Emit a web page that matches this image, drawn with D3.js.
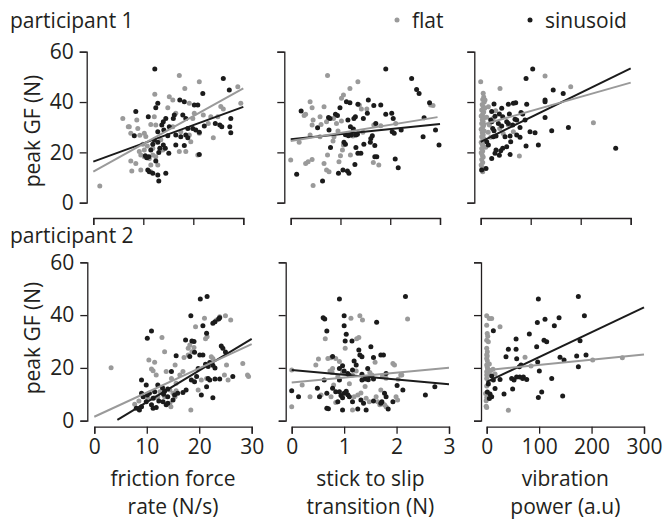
<!DOCTYPE html>
<html><head><meta charset="utf-8">
<script src="https://cdn.jsdelivr.net/npm/d3@7"></script>
<style>
html,body{margin:0;padding:0;background:#fff;}
text{font-family:"Open Sans",sans-serif;fill:#231f20;}
</style></head>
<body><svg id="c" width="665" height="521"></svg>
<script>
// ---------- data ----------
const seriesNames = ["flat", "sinusoid"];
const rowTitles = ["participant 1", "participant 2"];
const yTitle = "peak GF (N)";
const xTitles = [["friction force", "rate (N/s)"], ["stick to slip", "transition (N)"], ["vibration", "power (a.u)"]];
const xDomains = [[0, 30], [0, 3], [0, 300]];
const xTicks = [[0, 10, 20, 30], [0, 1, 2, 3], [0, 100, 200, 300]];
const yDomain = [0, 60];
const yTicks = [0, 20, 40, 60];

// participant 1 — friction force rate
const p1RateSin = [[12.3,53.1],[26.0,49.4],[27.2,44.8],[21.9,43.4],[17.3,40.8],[18.2,40.1],[20.2,38.8],[20.9,38.8],[12.9,39.5],[12.5,37.7],[8.5,36.2],[11.0,34.2],[16.2,34.8],[16.0,33.5],[17.9,34.8],[18.5,33.5],[14.5,33.5],[14.0,32.2],[13.7,30.9],[27.5,33.5],[24.4,31.5],[25.7,30.2],[22.2,30.5],[18.9,29.5],[19.9,29.5],[20.5,28.9],[15.2,30.2],[14.1,28.9],[12.9,28.2],[8.2,26.6],[21.2,28.0],[27.5,27.8],[18.5,26.9],[17.5,26.2],[18.9,25.8],[16.5,26.9],[14.9,26.6],[12.2,24.9],[12.9,24.0],[11.9,23.2],[14.0,22.9],[13.3,21.6],[14.4,21.6],[16.5,22.9],[18.2,22.7],[11.5,20.9],[15.1,19.6],[13.1,19.9],[21.2,19.2],[10.4,18.7],[11.1,18.3],[10.7,17.9],[12.5,16.6],[10.9,13.0],[11.2,12.3],[11.9,11.7],[14.5,11.7],[12.9,11.0],[13.1,8.6],[25.3,30.9],[27.3,30.2]];
const p1RateFlat = [[17.2,50.5],[21.2,48.1],[18.3,45.4],[28.9,46.1],[29.5,39.5],[12.3,43.1],[15.2,42.1],[15.9,40.8],[19.2,39.5],[25.5,38.2],[26.0,37.2],[14.9,37.7],[20.2,35.5],[19.9,33.5],[5.9,33.5],[12.2,34.2],[22.0,34.8],[23.5,34.2],[24.9,34.2],[11.5,31.1],[12.5,30.9],[7.2,30.2],[8.9,29.5],[7.5,27.6],[10.2,27.6],[10.5,26.3],[9.3,26.8],[15.9,30.2],[17.5,28.2],[19.2,26.9],[21.2,27.6],[19.5,24.2],[9.9,23.2],[11.9,21.6],[13.9,20.9],[9.2,20.3],[10.2,20.9],[17.2,20.3],[18.5,20.3],[9.5,19.0],[10.2,18.3],[11.2,17.6],[11.9,19.0],[12.5,18.3],[20.9,19.0],[7.5,16.6],[8.5,15.6],[12.9,15.0],[11.5,15.0],[7.7,12.6],[9.5,13.0],[11.5,12.3],[1.3,6.6],[8.7,32.9],[7.0,30.2],[24.0,25.8],[23.0,31.5],[16.5,35.5],[13.5,25.0],[10.8,22.5]];
// participant 1 — stick to slip transition
const p1SlipSin = [[1.91,53.1],[2.43,49.4],[2.53,45.0],[2.58,43.4],[2.79,39.7],[1.81,38.8],[1.67,38.6],[1.56,40.8],[1.35,39.1],[1.12,40.1],[1.19,39.7],[0.99,37.7],[0.90,35.1],[0.94,34.6],[0.76,33.9],[0.79,33.5],[0.21,36.4],[1.54,35.5],[1.30,34.2],[1.27,33.5],[1.46,33.5],[1.15,32.9],[1.91,35.1],[2.03,35.5],[2.06,33.5],[2.68,33.8],[0.54,29.8],[0.77,28.9],[1.20,30.2],[1.26,29.3],[1.71,31.5],[2.04,28.2],[2.08,27.6],[2.22,28.9],[2.91,28.9],[1.10,27.0],[1.16,26.6],[1.22,26.9],[1.31,26.9],[1.34,27.2],[1.64,26.6],[1.61,25.5],[1.60,24.0],[2.66,26.2],[1.07,24.0],[0.80,21.9],[1.47,23.2],[1.69,22.7],[1.10,23.2],[1.31,21.9],[1.35,19.6],[1.41,19.6],[2.98,22.9],[1.69,18.3],[1.73,18.3],[1.29,15.2],[2.10,17.4],[2.16,13.9],[1.05,13.0],[1.14,12.6],[1.17,11.7],[0.96,11.7],[0.64,8.6],[0.12,11.3]];
const p1SlipFlat = [[0.74,50.5],[1.35,48.1],[1.19,45.4],[1.06,42.8],[0.39,40.1],[0.43,37.7],[0.67,38.1],[1.02,41.5],[0.30,35.1],[0.27,34.6],[0.59,34.2],[0.86,33.5],[1.38,38.8],[1.42,37.2],[0.45,32.9],[0.43,30.9],[0.61,31.1],[0.72,32.2],[0.92,31.5],[1.02,32.5],[1.53,37.2],[1.67,30.9],[1.81,30.6],[2.11,31.5],[2.81,38.8],[2.86,38.6],[0.17,24.0],[0.39,26.9],[0.59,26.2],[0.87,26.2],[1.06,22.9],[0.85,24.5],[0.0,17.0],[0.30,15.6],[0.35,16.3],[0.43,17.2],[0.67,15.6],[0.74,19.0],[0.72,13.0],[0.77,12.3],[1.0,18.7],[1.04,20.9],[1.20,19.0],[0.97,16.3],[1.66,16.0],[1.77,15.0],[0.45,6.8],[1.25,26.5],[1.45,28.0],[0.95,28.5]];
// participant 1 — vibration power
const p1VibSin = [[104,53.1],[90.7,49.4],[145,44.8],[165,43.4],[128.7,40.8],[128.7,40.1],[70,39.7],[65.3,39.5],[55.3,39.1],[26.6,39.2],[92,39.1],[42,37.5],[22,36.2],[80.6,35.8],[84,35.2],[57.3,35.2],[37.3,35.2],[28.6,34.4],[44,34.2],[128.7,33.9],[68.6,33.2],[72,32.9],[20,32.9],[22,32.2],[52,32.2],[55.3,31.5],[35.3,31.5],[88.7,32.9],[64,30.9],[42,30.5],[24,29.5],[26.6,28.6],[78.6,29.9],[175.4,29.9],[98.6,28.2],[108.7,27.8],[142,28.6],[30.6,26.5],[25.3,26.2],[48.6,26.2],[58.7,26.5],[72,26.9],[78.6,26.0],[12,24.2],[15.3,22.9],[60,24.2],[52,22.2],[44,21.6],[40,20.6],[90.7,22.5],[115.3,22.9],[270,21.6],[30.6,20.9],[22,17.6],[28.6,19.6],[37.3,18.9],[58.7,19.2],[2,13.0],[10.6,13.6]];
const p1VibFlat = [[0,48.1],[38.6,45.4],[128.7,50.3],[180,46.1],[225.4,31.8],[77.3,18.6],[5,43.5],[6,42.0],[4,41.0],[7,40.0],[3,39.0],[5,38.2],[8,37.5],[2,36.8],[6,36.0],[4,35.2],[1,34.5],[7,33.8],[3,33.0],[5,32.2],[2,31.5],[6,30.8],[4,30.0],[1,29.2],[7,28.5],[3,27.8],[5,27.0],[2,26.2],[6,25.5],[4,24.8],[1,24.0],[3,23.2],[5,22.5],[2,21.5],[4,20.5],[1,19.8],[3,19.0],[5,18.2],[2,17.2],[4,16.0],[1,15.0],[3,14.0],[2,13.0],[4,12.3],[15.3,38.1],[8.6,40.8],[17.3,30.9],[38,29.5],[55,31.0],[65.3,28.2],[12,34.0],[25,33.5],[30,36.5],[45,27.5],[20,26.0],[15,28.0],[10,22.0]];
// participant 2 — friction force rate
const p2RateSin = [[20.2,46.1],[21.5,47.0],[18.4,39.8],[23.0,37.5],[22.6,36.9],[23.9,39.0],[23.7,38.5],[20.7,36.0],[10.9,34.0],[10.1,31.2],[17.4,30.6],[18.6,30.2],[19.0,30.0],[21.4,33.1],[24.2,28.3],[24.5,27.4],[25.0,26.0],[15.6,24.6],[19.1,25.9],[20.1,24.9],[20.7,24.9],[18.2,24.3],[22.0,22.0],[22.6,21.0],[21.7,20.5],[23.0,20.0],[21.2,21.4],[14.7,18.6],[19.8,19.8],[19.5,16.7],[9.0,15.4],[21.7,16.0],[22.0,15.4],[23.0,15.8],[23.9,15.8],[26.4,16.7],[18.5,15.4],[19.1,14.8],[17.5,11.6],[16.9,10.7],[21.4,12.9],[12.1,13.5],[13.0,12.5],[13.4,11.2],[14.0,12.0],[13.2,10.0],[14.0,9.1],[11.5,11.0],[10.5,10.4],[10.1,9.7],[11.2,8.5],[9.0,10.4],[9.3,9.1],[20.4,9.7],[22.6,8.7],[15.3,9.7],[15.9,10.4],[12.3,7.5],[13.1,7.2],[13.7,6.0],[14.0,6.6],[9.9,7.2],[10.9,6.0],[8.0,4.7],[8.6,4.1],[9.0,5.3],[11.2,4.7],[11.8,5.0],[15.0,7.8],[9.9,13.5]];
const p2RateFlat = [[3.2,20.1],[21.0,38.8],[19.3,35.6],[23.3,38.1],[23.9,39.4],[25.0,39.8],[26.0,38.1],[12.9,31.5],[13.4,26.1],[10.4,23.0],[11.5,22.1],[10.9,19.6],[11.8,17.3],[11.2,18.9],[13.7,18.6],[15.4,21.1],[17.1,23.9],[17.9,24.9],[18.6,26.1],[19.0,27.7],[21.2,31.0],[21.5,31.8],[18.2,28.7],[17.9,27.4],[22.6,23.6],[22.3,24.2],[25.2,21.1],[28.3,21.7],[29.2,17.3],[29.4,16.7],[25.5,15.4],[24.8,17.3],[20.4,15.4],[16.9,18.6],[16.3,17.3],[14.7,16.0],[15.6,14.2],[14.4,11.6],[15.0,10.4],[15.4,9.1],[15.6,11.3],[13.4,9.1],[14.4,6.6],[14.6,5.3],[7.7,6.2],[8.5,7.5],[10.2,8.5],[11.5,8.7],[12.1,9.1],[18.4,4.1],[12.5,11.0],[13.0,11.8],[19.8,11.6],[21.4,16.0]];
// participant 2 — stick to slip transition
const p2SlipSin = [[0.91,46.1],[2.17,47.0],[0.60,39.0],[0.63,38.5],[1.0,39.8],[1.62,37.3],[1.0,36.0],[0.67,34.0],[1.04,32.7],[1.02,30.2],[1.15,30.2],[1.28,26.8],[1.30,24.9],[1.51,28.0],[1.70,24.9],[1.75,24.9],[0.78,24.3],[1.56,23.9],[1.34,24.2],[1.19,22.6],[1.23,21.1],[0.97,20.8],[0.91,19.8],[1.0,18.8],[1.16,19.2],[1.45,19.8],[1.07,17.9],[1.09,17.3],[1.34,17.6],[1.40,15.8],[1.46,15.5],[1.56,15.8],[1.34,15.4],[0.91,15.4],[0.62,15.4],[1.80,17.9],[2.01,13.3],[2.12,11.6],[2.73,12.9],[2.55,9.7],[0.0,11.3],[0.13,9.1],[0.49,12.3],[0.78,12.3],[0.84,11.0],[0.91,11.0],[0.94,9.5],[1.0,10.4],[1.07,9.8],[1.04,11.2],[1.10,9.1],[0.97,8.7],[0.53,9.1],[0.67,10.4],[0.88,7.2],[0.67,4.7],[0.70,4.5],[0.97,4.1],[1.26,4.4],[1.32,7.8],[1.37,6.6],[1.42,4.1],[1.77,10.4],[1.80,9.1],[1.72,7.2],[1.70,6.6],[1.93,7.2],[1.84,4.4],[1.56,7.5],[1.16,7.2]];
const p2SlipFlat = [[2.21,38.5],[1.13,38.8],[1.30,39.8],[1.35,38.1],[1.24,31.0],[1.28,31.5],[0.64,31.0],[1.02,27.4],[0.51,23.4],[0.46,21.1],[0.69,23.6],[0.75,23.8],[0.84,23.6],[0.91,22.4],[1.59,22.1],[1.93,21.7],[1.96,21.1],[0.78,19.8],[0.73,18.8],[0.77,18.3],[0.97,18.3],[0.88,16.7],[1.16,17.3],[1.23,18.8],[1.49,18.3],[1.53,17.3],[1.73,16.7],[1.80,16.1],[2.08,17.3],[0.0,19.2],[0.20,13.5],[0.35,9.1],[0.56,9.7],[0.75,9.1],[0.84,6.9],[1.19,9.1],[1.26,9.7],[1.32,10.5],[1.42,8.5],[1.48,7.2],[1.61,9.1],[1.64,7.2],[1.68,6.0],[1.70,11.6],[1.99,9.1],[0.0,5.3],[1.16,4.1],[1.77,6.0],[1.80,5.3],[2.03,15.7],[2.10,17.3],[2.02,7.8],[1.40,13.0],[1.10,14.0],[0.80,13.5]];
// participant 2 — vibration power
const p2VibSin = [[98.5,46.1],[174.8,47.0],[186.3,39.8],[111.2,38.4],[96.6,37.2],[138,39.0],[129,36.0],[12.7,34.1],[81.3,32.8],[56,30.9],[109.3,30.5],[114.4,29.9],[95.3,28.0],[178,30.3],[41.3,27.1],[56,27.1],[36.8,24.2],[57.2,23.5],[139.8,24.0],[147.5,23.0],[171.6,24.5],[189.4,24.9],[97.2,22.2],[65.4,21.1],[62.3,20.4],[174.8,20.4],[57,16.6],[63,16.6],[70,16.6],[52.1,15.4],[47.6,16.0],[68.6,16.0],[76.3,15.6],[25.4,15.6],[12.7,15.4],[9.5,16.9],[3.1,13.9],[100.4,18.8],[124,16.0],[15.9,12.2],[1.2,10.9],[6.3,10.1],[5.1,8.4],[9.5,9.1],[33,10.1],[49.5,12.0],[104.9,10.9],[98.5,8.8],[144.9,9.4]];
const p2VibFlat = [[0,39.8],[4.9,38.7],[9.5,38.7],[0,36.2],[25.4,35.6],[0,30.5],[3.1,29.9],[0,27.4],[1.2,26.1],[0,23.6],[1.2,22.7],[0,21.1],[1.2,20.2],[0,18.5],[2,19.5],[0,17.3],[3,18.0],[0,16.0],[3.1,14.8],[0,13.1],[-2,10.3],[0,8.8],[-1,7.6],[0,5.0],[-1,5.5],[41.3,4.0],[73.1,24.0],[84.5,20.7],[202.1,23.0],[258.7,23.8],[15.9,17.7],[1,33],[2,32],[0,25],[1,24.5],[5,21.5],[8,19],[12,19.5]];

// fitted lines: [x0, y0, x1, y1]
const p1RateFit = { flat: [0, 12.3, 30, 45.4], sinusoid: [0, 16.3, 30, 38.1] };
const p1SlipFit = { flat: [0, 24.5, 2.95, 34.0], sinusoid: [0, 25.2, 3, 31.3] };
const p1VibFit  = { flat: [0, 30.8, 300, 47.7], sinusoid: [0, 24.2, 300, 53.4] };
const p2RateFit = { flat: [0, 1.5, 30, 29.0], sinusoid: [4.4, 0.3, 30, 31.0] };
const p2SlipFit = { flat: [0, 14.5, 3, 20.1], sinusoid: [0, 19.2, 3, 13.8] };
const p2VibFit  = { flat: [3, 19.2, 300, 25.1], sinusoid: [0, 14.7, 300, 42.9] };

const panelData = [
  [{flat: p1RateFlat, sinusoid: p1RateSin, fit: p1RateFit}, {flat: p1SlipFlat, sinusoid: p1SlipSin, fit: p1SlipFit}, {flat: p1VibFlat, sinusoid: p1VibSin, fit: p1VibFit}],
  [{flat: p2RateFlat, sinusoid: p2RateSin, fit: p2RateFit}, {flat: p2SlipFlat, sinusoid: p2SlipSin, fit: p2SlipFit}, {flat: p2VibFlat, sinusoid: p2VibSin, fit: p2VibFit}]
];

// ---------- layout ----------
const colors = { flat: "#9a9a9a", sinusoid: "#1b1b1b" };
const rowLayout = [
  { xr: [[93.3, 243.3], [290.7, 440], [480.7, 630.7]], yAxisX: [86.7, 284.3, 474.3], yr: [202.7, 51.7], xAxisY: 218, title: [10, 28], yLab: 131 },
  { xr: [[94.3, 251.7], [291.7, 449], [486.7, 644]], yAxisX: [87.3, 285.7, 481], yr: [420.7, 262.3], xAxisY: 426.7, title: [10, 243], yLab: 338 }
];
const FS = 21;
const fmt = d3.format("~g");
const svg = d3.select("#c");

rowLayout.forEach((L, ri) => {
  svg.append("text").attr("x", L.title[0]).attr("y", L.title[1]).style("font-size", FS + "px").text(rowTitles[ri]);
  svg.append("text").attr("transform", `translate(40,${L.yLab}) rotate(-90)`).attr("text-anchor", "middle")
    .style("font-size", FS + "px").text(yTitle);
  for (let ci = 0; ci < 3; ci++) {
    const x = d3.scaleLinear().domain(xDomains[ci]).range(L.xr[ci]);
    const y = d3.scaleLinear().domain(yDomain).range(L.yr);
    const d = panelData[ri][ci];
    const g = svg.append("g");
    // y axis
    const ya = d3.axisLeft(y).tickValues(yTicks).tickSize(7).tickSizeOuter(7).tickPadding(6)
      .tickFormat(ci > 0 ? "" : fmt);
    const yg = g.append("g").attr("transform", `translate(${L.yAxisX[ci]},0)`).call(ya);
    // x axis
    const xa = d3.axisBottom(x).tickValues(xTicks[ci]).tickSize(7).tickSizeOuter(7).tickPadding(5)
      .tickFormat(ri === 0 ? "" : fmt);
    const xg = g.append("g").attr("transform", `translate(0,${L.xAxisY})`).call(xa);
    [yg, xg].forEach(a => {
      a.selectAll("path,line").attr("stroke", "#231f20").attr("stroke-width", 1.3);
      a.selectAll("text").style("font-size", FS + "px").style("font-family", '"Open Sans",sans-serif').attr("fill", "#231f20");
    });
    // points
    seriesNames.forEach(s => {
      g.append("g").selectAll("circle").data(d[s]).join("circle")
        .attr("cx", p => x(p[0])).attr("cy", p => y(p[1])).attr("r", 2.5).attr("fill", colors[s]);
    });
    // fit lines
    ["sinusoid", "flat"].forEach(s => {
      const f = d.fit[s];
      g.append("line").attr("x1", x(f[0])).attr("y1", y(f[1])).attr("x2", x(f[2])).attr("y2", y(f[3]))
        .attr("stroke", colors[s]).attr("stroke-width", 2);
    });
    // x titles
    if (ri === 1) {
      const cx = (L.xr[ci][0] + L.xr[ci][1]) / 2;
      xTitles[ci].forEach((t, k) => {
        svg.append("text").attr("x", cx).attr("y", 486 + k * 28).attr("text-anchor", "middle")
          .style("font-size", FS + "px").text(t);
      });
    }
  }
});

// legend
const legend = [{ s: "flat", cx: 397, tx: 412 }, { s: "sinusoid", cx: 530, tx: 545 }];
legend.forEach(l => {
  svg.append("circle").attr("cx", l.cx).attr("cy", 20).attr("r", 2.5).attr("fill", colors[l.s]);
  svg.append("text").attr("x", l.tx).attr("y", 28).style("font-size", FS + "px").text(l.s);
});
</script></body></html>
